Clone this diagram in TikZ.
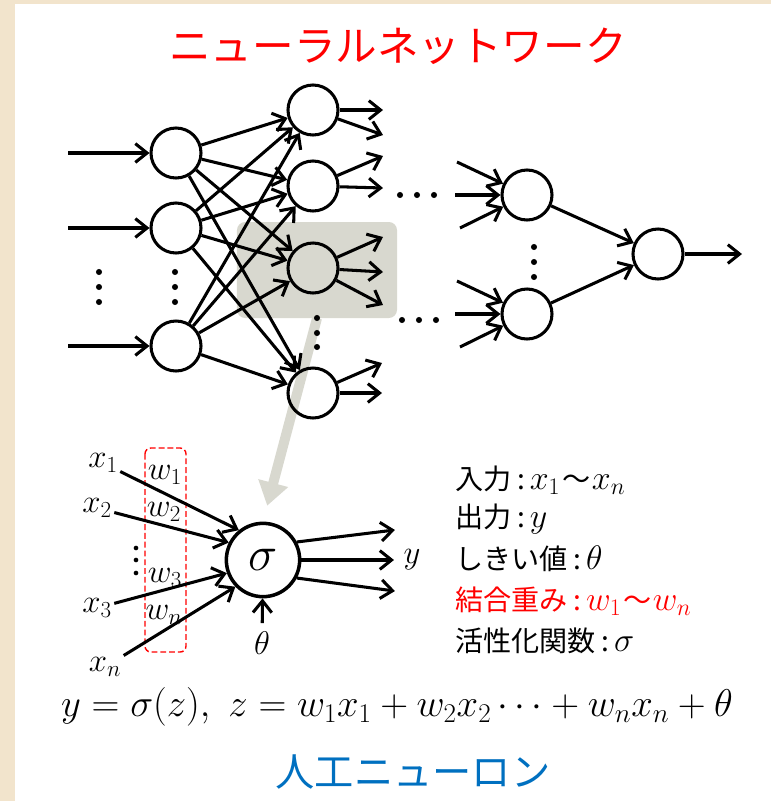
\documentclass[tikz,border=0pt]{standalone}
\usepackage{fix-cm}
\usepackage{fontspec}
\newfontfamily\jp{Noto Sans CJK JP}
\usetikzlibrary{arrows.meta,calc}
\definecolor{parch}{RGB}{242,228,204}
\definecolor{hlgray}{RGB}{216,216,207}
\definecolor{jpblue}{RGB}{0,112,192}
\newcommand{\mv}[1]{{\fontsize{29}{32}\selectfont$#1$}}
\newcommand{\cl}{\hspace{5pt}:\hspace{4pt}}
\newcommand{\wv}{\hspace{2pt}～\hspace{1pt}}
\tikzset{
  neuron/.style={circle, draw, line width=2.6pt, minimum size=1.5cm, inner sep=0pt},
  arr/.style={line width=2.6pt, -{Straight Barb[length=10pt,width=16pt]}},
  bigarr/.style={hlgray, line width=8.5pt, -{Triangle[length=20pt,width=25pt]}},
  mlbl/.style={inner sep=2pt, font=\fontsize{28}{32}\selectfont},
  info/.style={inner sep=0pt, anchor=base west, font=\fontsize{24}{28}\selectfont\jp},
  dot/.style={fill=black}
}

\begin{document}
\begin{tikzpicture}[x=0.03cm, y=-0.03cm]
  % background
  \fill[parch] (0,0) rectangle (771,801);
  \fill[white] (15,4) rectangle (771,801);
  \useasboundingbox (0,0) rectangle (771,801);

  \node[font=\fontsize{35.5}{40}\selectfont\jp, text=red] (title) at (398,46) {ニューラルネットワーク};

  % highlight and zoom arrow
  \node[fill=hlgray, rounded corners=7pt, minimum width=4.8cm, minimum height=2.88cm] (hl) at (317,270) {};
  \node[circle, line width=3pt, draw, minimum size=2.2cm, inner sep=0pt,
        font=\fontsize{42}{48}\selectfont] (sig) at (263,560) {$\sigma$};
  \draw[bigarr, shorten >=14pt] (hl.south) -- (sig.north);

  % network
  \node[neuron] (a1) at (176,153) {};
  \node[neuron] (a2) at (176,228) {};
  \node[neuron] (a3) at (176,346) {};
  \node[neuron] (h1) at (313,110) {};
  \node[neuron] (h2) at (313,186) {};
  \node[neuron] (h3) at (313,268) {};
  \node[neuron] (h4) at (313,393) {};
  \node[neuron] (g1) at (527,195) {};
  \node[neuron] (g2) at (527,314) {};
  \node[neuron] (out) at (658,254) {};

  \foreach \i in {1,2,3}
    \draw[arr] ($(a\i)+(-108,0)$) -- (a\i);
  \foreach \i in {1,2,3}
    \foreach \j in {1,...,4}
      \draw[arr] (a\i) -- (h\j);

  \draw[arr] (h1) -- ++(70,0);
  \draw[arr] (h1) -- ++(70,25);
  \draw[arr] (h2) -- ++(70,-30);
  \draw[arr] (h2) -- ++(70,2);
  \draw[arr] (h3) -- ++(70,-31);
  \draw[arr] (h3) -- ++(70,4);
  \draw[arr] (h3) -- ++(70,37);
  \draw[arr] (h4) -- ++(69,-30);
  \draw[arr] (h4) -- ++(69,0);

  \foreach \dx/\dy in {-70/-33,-72/0,-67/33} {
    \draw[arr] ($(g1)+(\dx,\dy)$) -- (g1);
    \draw[arr] ($(g2)+(\dx,\dy)$) -- (g2);
  }
  \draw[arr] (g1) -- (out);
  \draw[arr] (g2) -- (out);
  \draw[arr] (out) -- ++(84,0);

  % dots
  \foreach \y in {272,287,302} {
    \fill[dot] (99,\y) circle (2.6pt);
    \fill[dot] (175,\y) circle (2.6pt);
  }
  \foreach \y in {318,333,347}
    \fill[dot] (317,\y) circle (2.6pt);
  \foreach \y in {247,262,277}
    \fill[dot] (534,\y) circle (2.6pt);
  \foreach \x in {400,417,434}
    \fill[dot] (\x,195) circle (2.6pt);
  \foreach \x in {402,419,436}
    \fill[dot] (\x,320) circle (2.6pt);

  % artificial neuron
  \draw[red, dashed, dash pattern=on 5pt off 2.5pt, line width=1.2pt, rounded corners=5pt]
    (145,448) rectangle (186,652);
  \node[mlbl] (x1) at (103,463) {$x_1$};
  \node[mlbl] (x2) at (97,508) {$x_2$};
  \node[mlbl] (x3) at (97,608) {$x_3$};
  \node[mlbl] (xn) at (105,667) {$x_n$};
  \node[mlbl] (w1) at (165,475) {$w_1$};
  \node[mlbl] (w2) at (164,512) {$w_2$};
  \node[mlbl] (w3) at (165,578) {$w_3$};
  \node[mlbl] (wn) at (164,615) {$w_n$};
  \foreach \y in {548,560,573}
    \fill[dot] (136,\y) circle (2pt);

  \draw[arr] (x1) -- (sig.129);
  \draw[arr] (x2) -- (sig.153);
  \draw[arr] (x3) -- (sig.200);
  \draw[arr] (xn) -- (sig.224);

  \node[mlbl] (yout) at (412,560) {$y$};
  \draw[arr] (sig.28) -- ++(98,-12);
  \draw[arr, shorten >=6pt] (sig) -- (yout);
  \draw[arr] (sig.-28) -- ++(98,13);
  \node[mlbl] (th) at (262,643) {$\theta$};
  \draw[arr, shorten <=5pt] (th) -- (sig);

  % legend
  \node[info] (t1) at (455,489) {入力\cl\mv{x_1}\wv\mv{x_n}};
  \node[info] (t2) at (455,527) {出力\cl\mv{y}};
  \node[info] (t3) at (455,569) {しきい値\cl\mv{\theta}};
  \node[info, text=red] (t4) at (455,610) {結合重み\cl\mv{w_1}\wv\mv{w_n}};
  \node[info] (t5) at (455,651) {活性化関数\cl\mv{\sigma}};

  \node[font=\fontsize{33}{38}\selectfont] (eq) at (397,707)
    {$y=\sigma(z),\ z=w_1x_1+w_2x_2\cdots+w_nx_n+\theta$};
  \node[font=\fontsize{33.5}{38}\selectfont\jp, text=jpblue] (cap) at (413,772) {人工ニューロン};
\end{tikzpicture}
\end{document}
